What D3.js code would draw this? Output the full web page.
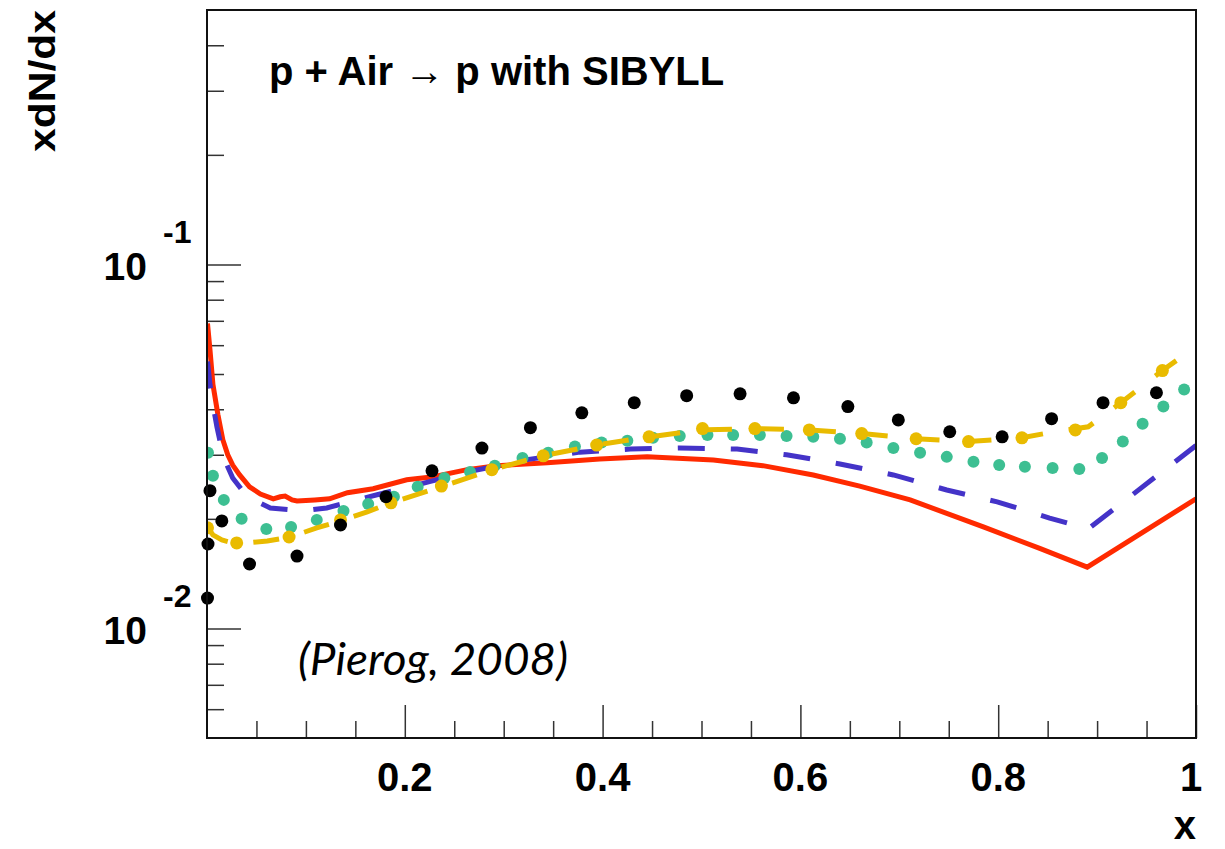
<!DOCTYPE html>
<html>
<head>
<meta charset="utf-8">
<script src="https://cdn.jsdelivr.net/npm/d3@7"></script>
<style>
  body { margin: 0; background: #fff; }
  svg { display: block; }
  text { font-family: "Liberation Sans", Arial, sans-serif; font-weight: bold; fill: #000; }
</style>
</head>
<body>
<svg width="1225" height="849"></svg>
<script>
// --- data ---
const redX = [0.0005,0.003,0.006,0.011,0.016,0.021,0.026,0.033,0.043,0.054,0.067,0.074,0.079,0.086,0.091,0.109,0.124,0.142,0.168,0.202,0.229,0.263,0.293,0.344,0.397,0.445,0.512,0.562,0.613,0.660,0.711,0.785,0.842,0.890,1.0];
const redY = [0.0688,0.0583,0.0468,0.0387,0.0330,0.0300,0.0281,0.0264,0.0245,0.0234,0.0227,0.0230,0.0231,0.02255,0.0224,0.02255,0.0227,0.0236,0.0242,0.0256,0.0261,0.0273,0.0280,0.0285,0.0292,0.0296,0.0290,0.0280,0.0264,0.0246,0.02255,0.0190,0.0166,0.01474,0.0227];

const blueX = [0.0005,0.003,0.006,0.010,0.014,0.018,0.026,0.036,0.047,0.064,0.097,0.121,0.152,0.172,0.205,0.225,0.263,0.289,0.320,0.377,0.428,0.478,0.536,0.586,0.640,0.694,0.748,0.799,0.852,0.891,1.0];
const blueY = [0.0541,0.0468,0.0412,0.0358,0.0319,0.0290,0.0259,0.0239,0.02255,0.02143,0.02103,0.02143,0.02255,0.0233,0.0245,0.0253,0.0269,0.0278,0.0290,0.0305,0.0311,0.0313,0.0311,0.0300,0.0283,0.0264,0.0240,0.02227,0.0201,0.01876,0.0318];

const yellowLineX = [0.0005,0.006,0.015,0.030,0.061,0.084,0.111,0.135,0.162,0.186,0.237,0.288,0.340,0.394,0.447,0.501,0.554,0.609,0.662,0.717,0.770,0.824,0.852,0.891,0.924,0.966,1.0];
const yellowLineY = [0.0190,0.01806,0.0175,0.01706,0.01739,0.01783,0.01888,0.01974,0.0209,0.02213,0.0245,0.0273,0.0298,0.0319,0.0336,0.0351,0.0354,0.0351,0.0343,0.0332,0.0326,0.0334,0.0345,0.0358,0.0417,0.0511,0.0595];

const yellowDotX = [0.0005,0.030,0.083,0.135,0.186,0.237,0.288,0.340,0.394,0.447,0.501,0.554,0.609,0.662,0.717,0.770,0.824,0.878,0.924,0.966];
const yellowDotY = [0.0189,0.01717,0.01783,0.01987,0.02213,0.0246,0.0273,0.0298,0.0319,0.0336,0.0354,0.0354,0.0351,0.0343,0.0332,0.0326,0.0334,0.0351,0.0417,0.0511];

const tealX = [0.001,0.006,0.017,0.035,0.060,0.085,0.111,0.138,0.163,0.189,0.213,0.240,0.266,0.291,0.319,0.345,0.372,0.399,0.425,0.451,0.478,0.506,0.532,0.559,0.586,0.613,0.640,0.667,0.694,0.721,0.748,0.775,0.801,0.827,0.855,0.882,0.905,0.926,0.946,0.967,0.988];
const tealY = [0.0304,0.02626,0.02255,0.0200,0.01876,0.0190,0.01987,0.02103,0.02198,0.0230,0.0245,0.0259,0.0269,0.0280,0.0294,0.0304,0.0316,0.0324,0.0328,0.0334,0.0338,0.0340,0.0340,0.0340,0.0338,0.0336,0.0332,0.0324,0.0313,0.0304,0.0296,0.0287,0.0281,0.0278,0.0276,0.0274,0.0294,0.0326,0.0365,0.0407,0.0453];

const blackX = [0.0005,0.001,0.003,0.015,0.043,0.091,0.135,0.181,0.2275,0.278,0.327,0.379,0.432,0.485,0.539,0.593,0.648,0.699,0.751,0.804,0.854,0.906,0.960];
const blackY = [0.01212,0.01706,0.0239,0.01974,0.01503,0.0158,0.01924,0.0230,0.0271,0.0313,0.0356,0.0391,0.0417,0.0436,0.0441,0.0430,0.0407,0.0374,0.0347,0.0336,0.0377,0.0417,0.0444];

const xMajor = [0.2, 0.4, 0.6, 0.8, 1];
const xMinor = [0.05,0.1,0.15,0.25,0.3,0.35,0.45,0.5,0.55,0.65,0.7,0.75,0.85,0.9,0.95];
const yMajor = [0.01, 0.1];
const yExp = ["-2", "-1"];
const yMinor = [0.006,0.007,0.008,0.009,0.02,0.03,0.04,0.05,0.06,0.07,0.08,0.09,0.2,0.3,0.4];

const zip = (xs, ys) => xs.map((v, i) => [v, ys[i]]);

// --- frame / scales ---
const svg = d3.select("svg");
const frameL = 207, frameR = 1196, frameT = 10, frameB = 738;

const x = d3.scaleLinear().domain([0, 1]).range([frameL, frameR]);
const y = d3.scaleLog().domain([0.005, 0.5]).range([frameB, frameT]);

const line = d3.line().x(d => x(d[0])).y(d => y(d[1]));

// ticks
const tickColor = "#333";
function tickAxis(axis, tx, ty) {
  const g = svg.append("g").attr("transform", `translate(${tx},${ty})`).call(axis);
  g.select(".domain").remove();
  g.selectAll("line").attr("stroke", tickColor).attr("stroke-width", 1.5);
  g.selectAll("text").remove();
  return g;
}
tickAxis(d3.axisTop(x).tickValues(xMajor).tickSize(33), 0, frameB);
tickAxis(d3.axisTop(x).tickValues(xMinor).tickSize(17), 0, frameB);
tickAxis(d3.axisRight(y).tickValues(yMajor).tickSize(34), frameL, 0);
tickAxis(d3.axisRight(y).tickValues(yMinor).tickSize(17), frameL, 0);

// --- curves (clipped to the frame) ---
svg.append("clipPath").attr("id", "plotclip")
  .append("rect").attr("x", frameL).attr("y", frameT).attr("width", frameR - frameL).attr("height", frameB - frameT);
const plot = svg.append("g").attr("clip-path", "url(#plotclip)");

plot.append("path").datum(zip(redX, redY))
  .attr("d", line).attr("fill", "none").attr("stroke", "#ff2a00").attr("stroke-width", 5);

plot.append("path").datum(zip(blueX, blueY))
  .attr("d", line).attr("fill", "none").attr("stroke", "#4433c8").attr("stroke-width", 5)
  .attr("stroke-dasharray", "27,26");

plot.selectAll("circle.teal").data(zip(tealX, tealY)).join("circle")
  .attr("class", "teal").attr("cx", d => x(d[0])).attr("cy", d => y(d[1]))
  .attr("r", 6).attr("fill", "#3dbf92");

plot.append("path").datum(zip(yellowLineX, yellowLineY))
  .attr("d", line).attr("fill", "none").attr("stroke", "#e9bb00").attr("stroke-width", 5)
  .attr("stroke-dasharray", "26,26");

plot.selectAll("circle.yellow").data(zip(yellowDotX, yellowDotY)).join("circle")
  .attr("class", "yellow").attr("cx", d => x(d[0])).attr("cy", d => y(d[1]))
  .attr("r", 6.5).attr("fill", "#e9bb00");

svg.selectAll("circle.black").data(zip(blackX, blackY)).join("circle")
  .attr("class", "black").attr("cx", d => x(d[0])).attr("cy", d => y(d[1]))
  .attr("r", 6.5).attr("fill", "#000");

// frame
svg.append("rect").attr("x", frameL).attr("y", frameT)
  .attr("width", frameR - frameL).attr("height", frameB - frameT)
  .attr("fill", "none").attr("stroke", "#111").attr("stroke-width", 2);

// --- tick labels ---
svg.selectAll("text.xlab").data(xMajor).join("text")
  .attr("class", "xlab").attr("x", d => d === 1 ? x(d) - 5 : x(d)).attr("y", 791)
  .attr("text-anchor", "middle").style("font-size", "40px")
  .text(d => d3.format("")(d));

yMajor.forEach((v, i) => {
  svg.append("text").attr("x", 147).attr("y", y(v) + 16)
    .attr("text-anchor", "end").style("font-size", "39px").text("10");
  svg.append("text").attr("x", 163).attr("y", y(v) - 21)
    .style("font-size", "32px").text(yExp[i]);
});

// axis titles
svg.append("text").attr("x", frameR).attr("y", 839)
  .attr("text-anchor", "end").style("font-size", "40px").text("x");

svg.append("text").attr("transform", `translate(55,${frameT}) rotate(-90)`)
  .attr("text-anchor", "end").style("font-size", "37px")
  .attr("textLength", 142).attr("lengthAdjust", "spacingAndGlyphs")
  .text("xdN/dx");

// annotations
svg.append("text").attr("x", 269).attr("y", 85)
  .style("font-size", "40px")
  .text("p + Air \u2192 p with SIBYLL");

svg.append("text").attr("x", 298).attr("y", 675)
  .style("font-family", "Lato, 'Open Sans', sans-serif")
  .style("font-weight", "normal").style("font-style", "italic")
  .style("font-size", "44px")
  .attr("textLength", 270).attr("lengthAdjust", "spacingAndGlyphs")
  .text("(Pierog, 2008)");
</script>
</body>
</html>
